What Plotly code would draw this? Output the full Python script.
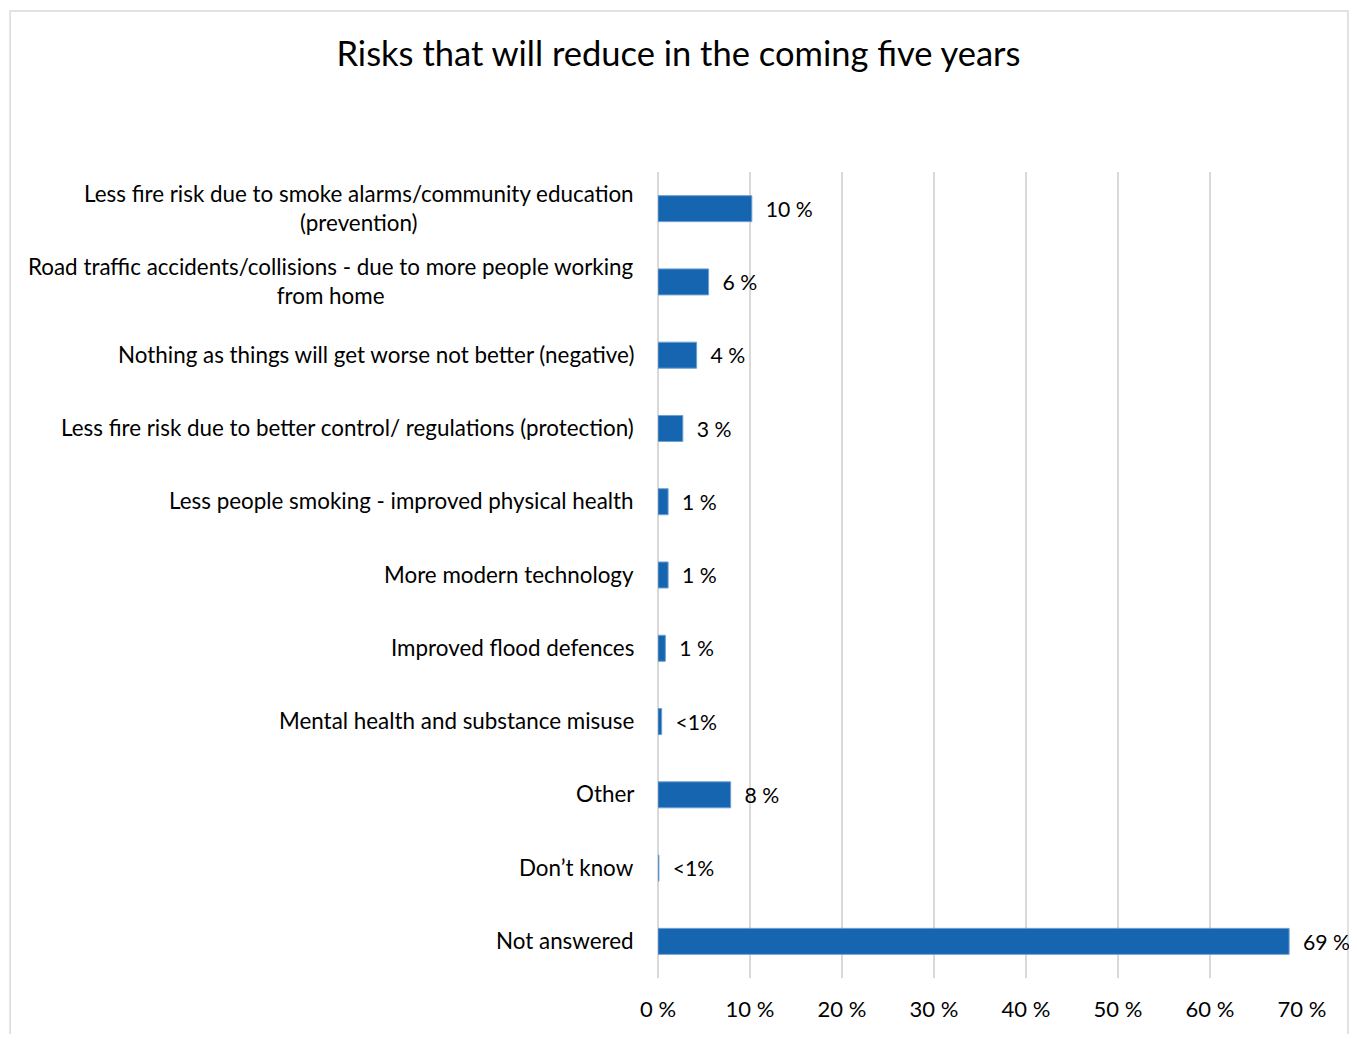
import plotly.graph_objects as go

categories = [
    "Less fire risk due to smoke alarms/community education<br>(prevention)",
    "Road traffic accidents/collisions - due to more people working<br>from home",
    "Nothing as things will get worse not better (negative)",
    "Less fire risk due to better control/ regulations (protection)",
    "Less people smoking - improved physical health",
    "More modern technology",
    "Improved flood defences",
    "Mental health and substance misuse",
    "Other",
    "Don\u2019t know",
    "Not answered",
]
values = [10.2, 5.5, 4.2, 2.7, 1.1, 1.1, 0.8, 0.4, 7.9, 0.1, 68.6]
value_labels = ["10 %", "6 %", "4 %", "3 %", "1 %", "1 %", "1 %", "<1%", "8 %", "<1%", "69 %"]
tick_vals = [0, 10, 20, 30, 40, 50, 60, 70]
tick_text = ["0 %", "10 %", "20 %", "30 %", "40 %", "50 %", "60 %", "70 %"]

FONT = "Lato"
FS = 22.4
fig = go.Figure()
fig.add_trace(go.Bar(
    x=values, y=categories, orientation="h",
    marker=dict(color="#1565B0", line=dict(color="#6FA0D4", width=1)),
    text=["\u00a0\u00a0" + t for t in value_labels],
    textposition="outside", cliponaxis=False,
    textfont=dict(family=FONT, size=22, color="#000000"),
    hoverinfo="skip",
))

for c in categories:
    fig.add_annotation(
        x=0, xref="paper", y=c, yref="y", text=c, showarrow=False,
        xanchor="right", align="center", xshift=-22, yshift=1,
        font=dict(family=FONT, size=FS, color="#000000"),
    )

fig.add_shape(type="rect", xref="paper", yref="paper",
              x0=-1.006, x1=1.0714, y0=-0.2, y1=1.1998,
              line=dict(color="#D9D9D9", width=1.5), fillcolor="rgba(0,0,0,0)", layer="below")

fig.update_layout(
    width=1341, height=1026,
    margin=dict(l=650, r=47, t=164, b=56),
    paper_bgcolor="white", plot_bgcolor="white",
    bargap=0.645, showlegend=False,
    title=dict(text="Risks that will reduce in the coming five years",
               x=0.5, xanchor="center", y=0.955, yanchor="middle",
               font=dict(family=FONT, size=34.5, color="#000000")),
    font=dict(family=FONT, size=FS, color="#000000"),
)
fig.update_xaxes(range=[0, 70], tickvals=tick_vals, ticktext=tick_text,
                 showgrid=True, gridcolor="#D9D9D9", gridwidth=2,
                 zeroline=True, zerolinecolor="#D9D9D9", zerolinewidth=2,
                 showline=False, ticks="", ticklabelstandoff=16,
                 tickfont=dict(family=FONT, size=22, color="#000000"))
fig.update_yaxes(autorange="reversed", showticklabels=False, showgrid=False,
                 zeroline=False, showline=False, ticks="")

fig.write_html("out.html")
